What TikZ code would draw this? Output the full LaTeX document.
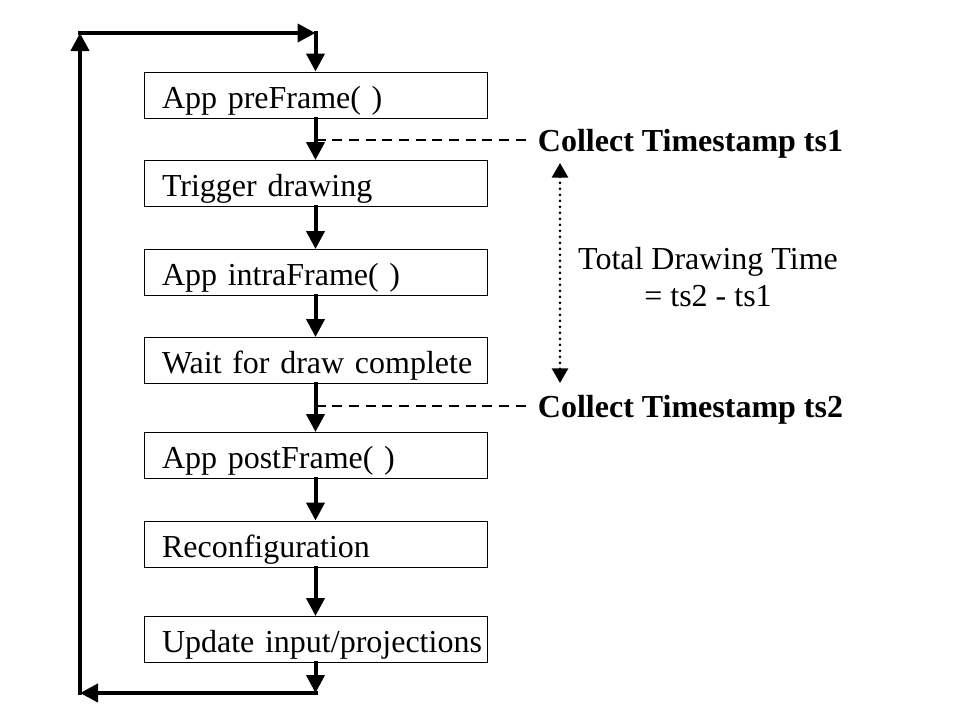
\documentclass[tikz,border=0pt]{standalone}
\usepackage{fontspec}
\setmainfont{Liberation Serif}
\usetikzlibrary{arrows.meta}

\begin{document}
\begin{tikzpicture}[
    x=0.75pt, y=-0.75pt,
    every node/.style={font=\fontsize{24}{27.75}\selectfont},
    stage/.style={draw, line width=0.75pt, minimum width=257.25pt,
                  minimum height=34.5pt, inner xsep=8.625pt,
                  text width=240pt, align=left,
                  text height=23.5pt, text depth=4pt,
                  execute at begin node={\hspace*{4.875pt}\hbox\bgroup},
                  execute at end node={\egroup}},
    flow/.style={line width=3pt, shorten <=-1.5pt,
                 -{Triangle[length=13.5pt,width=13.5pt]}},
    stamp/.style={dashed, line width=1.1pt, dash pattern=on 7.5pt off 5pt},
    span/.style={line width=2.2pt, line cap=round, dash pattern=on 0pt off 4.5pt,
                 {Triangle[length=11pt,width=12pt]}-{Triangle[length=11pt,width=12pt]}},
    tslabel/.style={anchor=west, text depth=0pt, inner xsep=8pt,
                    font=\fontsize{24}{27.75}\selectfont\bfseries}]

\useasboundingbox (0,0) rectangle (959,719);

\node[stage] (pre)    at (315.5,95)    {App preFrame( )};
\node[stage] (trig)   at (315.5,183.5) {Trigger drawing};
\node[stage] (intra)  at (315.5,272.5) {App intraFrame( )};
\node[stage] (wait)   at (315.5,360.5) {Wait for draw complete};
\node[stage] (post)   at (315.5,455.5) {App postFrame( )};
\node[stage] (reconf) at (315.5,544)   {Reconfiguration};
\node[stage] (update) at (315.5,639.5) {Update input/projections};

\draw[flow] (pre) -- (trig);
\draw[flow] (trig) -- (intra);
\draw[flow] (intra) -- (wait);
\draw[flow] (wait) -- (post);
\draw[flow] (post) -- (reconf);
\draw[flow] (reconf) -- (update);

% loop back to the top
\coordinate (br) at (315.5,693);
\coordinate (bl) at (80,693);
\coordinate (tl) at (80,33);
\coordinate (tr) at (315.5,33);
\draw[flow] (update) -- (br);
\draw[flow] (br) -- (bl);
\draw[flow] (bl) -- (tl);
\draw[flow] (tl) -- (tr);
\draw[flow] (tr) -- (pre);

% timestamps
\node[tslabel] (ts1) at (527,140) {Collect Timestamp ts1};
\node[tslabel] (ts2) at (527,406) {Collect Timestamp ts2};
\coordinate (m1) at (315.5,140);
\coordinate (m2) at (315.5,406);
\draw[stamp] (m1) -- (ts1.west);
\draw[stamp] (m2) -- (ts2.west);

\coordinate (s1) at (560,163);
\coordinate (s2) at (560,383);
\draw[span] (s1) -- (s2);
\node[align=center] (total) at (708,277) {Total Drawing Time\\= ts2 - ts1};

\end{tikzpicture}
\end{document}
